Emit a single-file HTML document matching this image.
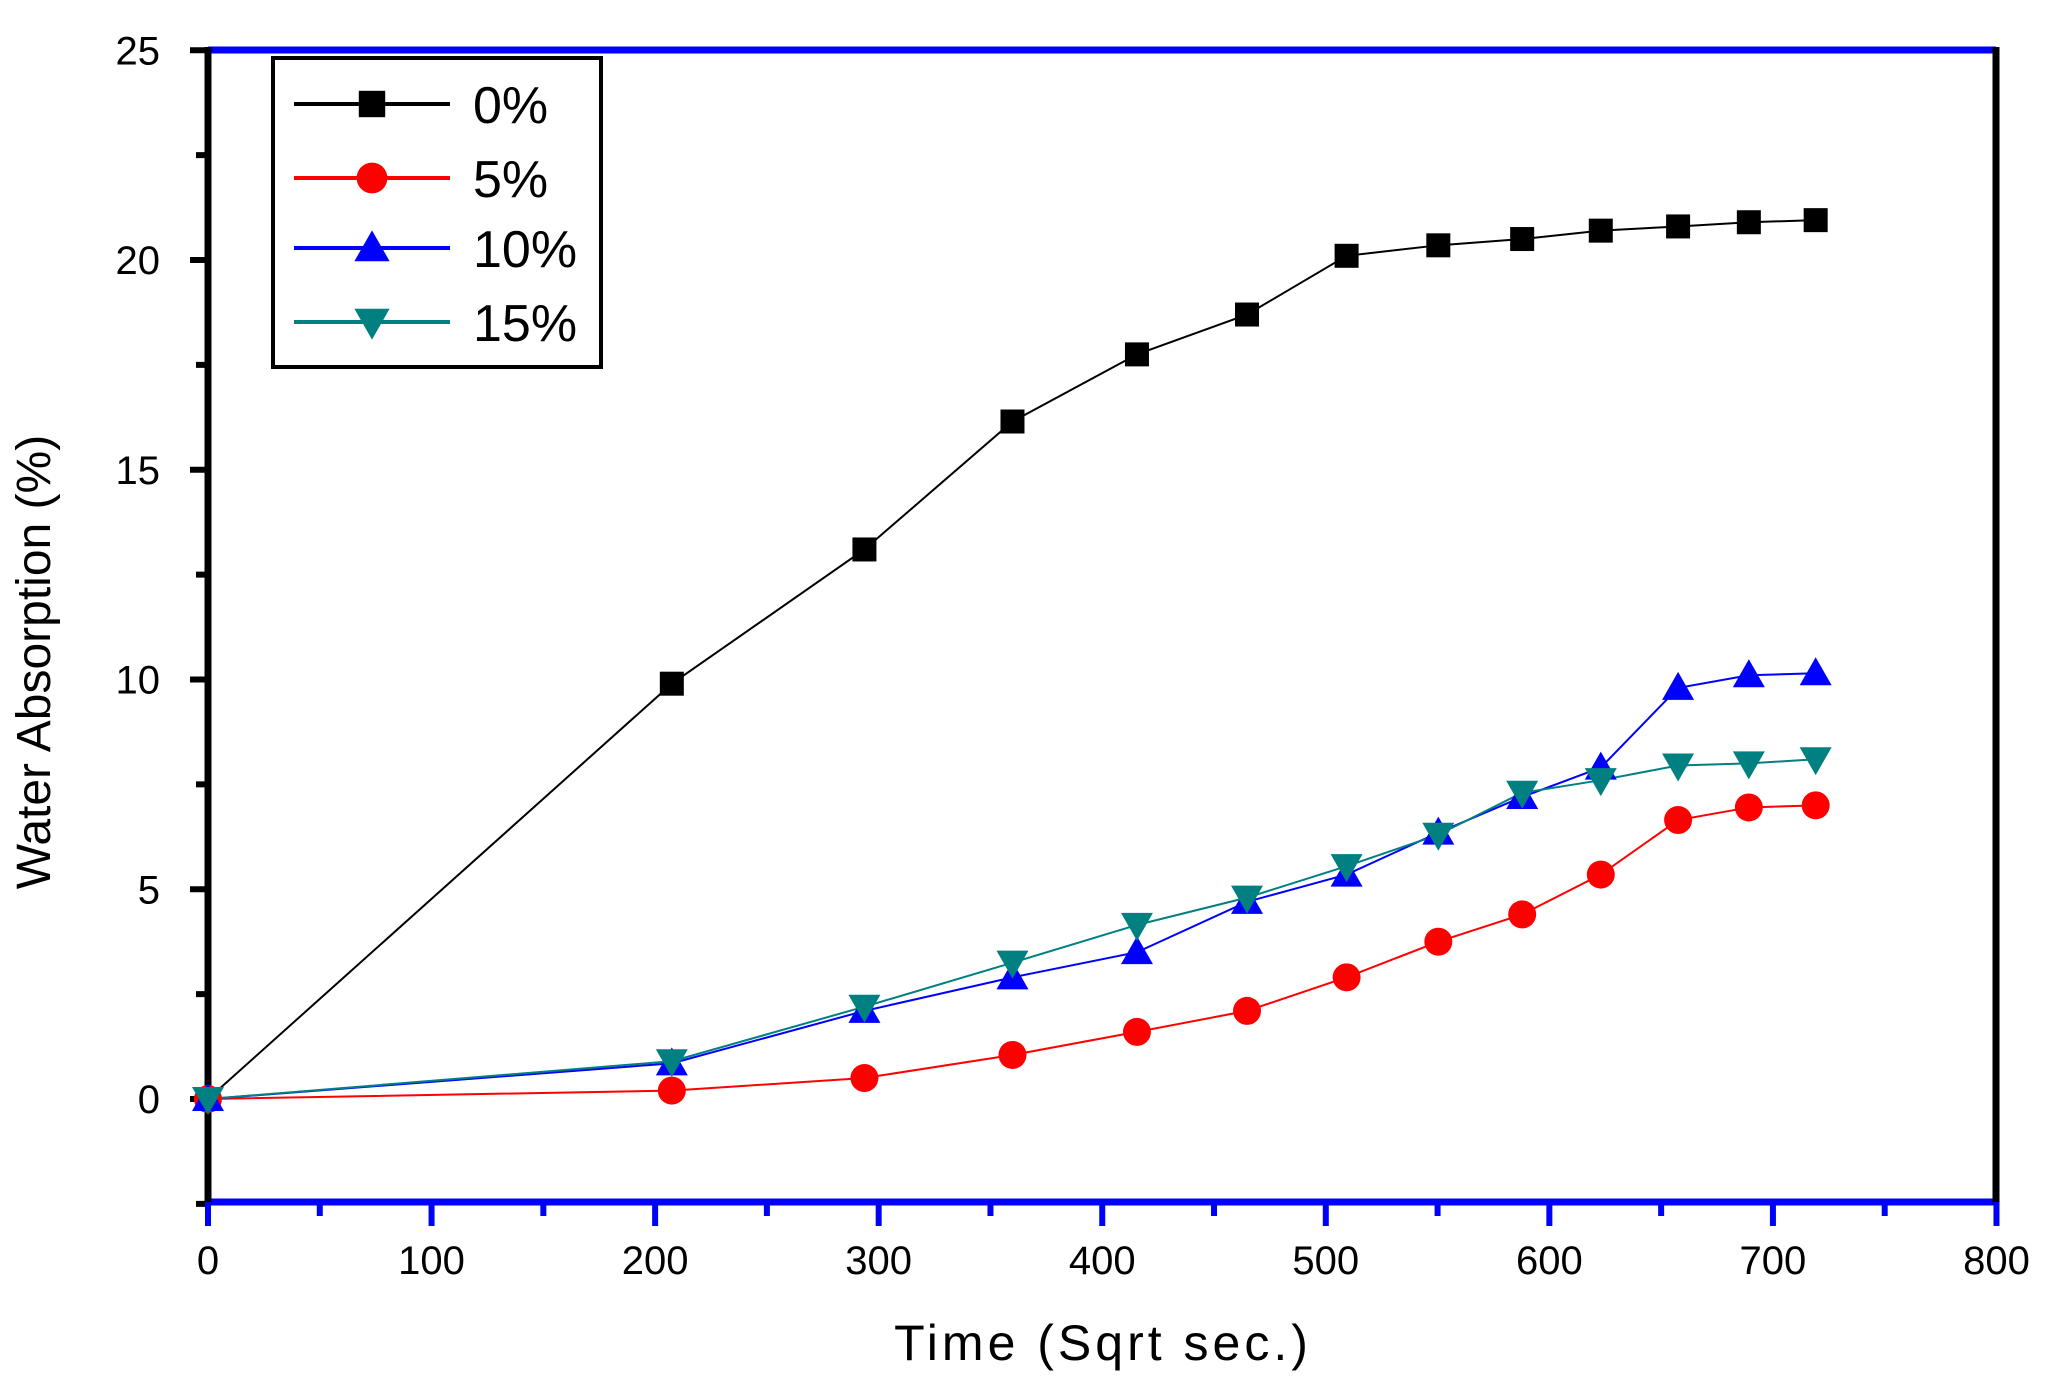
<!DOCTYPE html>
<html><head><meta charset="utf-8"><style>
html,body{margin:0;padding:0;background:#fff}
svg{display:block;font-family:"Liberation Sans",Arial,sans-serif}
</style></head><body>
<svg id="s" width="2055" height="1390" viewBox="0 0 2055 1390" xmlns="http://www.w3.org/2000/svg">
<g id="g"></g>
<text x="50" y="662" font-size="48" text-anchor="middle" transform="rotate(-90 50 662)">Water Absorption (%)</text>
<text x="1103" y="1360" font-size="50" text-anchor="middle" letter-spacing="4">Time (Sqrt sec.)</text>
</svg>
<script>
var g=document.getElementById('g'),h='';
function px(x){return 208+x*2.2356}function py(y){return 1099-y*41.95}
h+='<line x1="208" y1="50" x2="1996" y2="50" stroke="#00f" stroke-width="7"/>';
h+='<line x1="208" y1="1202" x2="1996" y2="1202" stroke="#00f" stroke-width="7"/>';
h+='<line x1="208" y1="47" x2="208" y2="1205" stroke="#000" stroke-width="7"/>';
h+='<line x1="1996" y1="47" x2="1996" y2="1205" stroke="#000" stroke-width="7"/>';
for(var v=-2.5;v<=25;v+=2.5){var y=py(v),maj=(v%5==0);h+='<line x1="'+(maj?190:196)+'" y1="'+y+'" x2="208" y2="'+y+'" stroke="#000" stroke-width="6"/>';
if(maj)h+='<text x="160" y="'+(y+14)+'" font-size="40" text-anchor="end">'+v+'</text>';}
for(var x=0;x<=800;x+=50){var X=px(x),maj=(x%100==0);h+='<line x1="'+X+'" y1="1202" x2="'+X+'" y2="'+(maj?1226:1216)+'" stroke="#00f" stroke-width="6"/>';
if(maj)h+='<text x="'+X+'" y="1274" font-size="40" text-anchor="middle">'+x+'</text>';}
var S=[
{c:'#000',m:'sq',d:[0,9.9,13.1,16.15,17.75,18.7,20.1,20.35,20.5,20.7,20.8,20.9,20.95]},
{c:'#f00',m:'ci',d:[0,0.2,0.5,1.05,1.6,2.1,2.9,3.75,4.4,5.35,6.65,6.95,7.0]},
{c:'#00f',m:'tu',d:[0,0.85,2.1,2.9,3.5,4.7,5.35,6.35,7.2,7.9,9.8,10.1,10.15]},
{c:'#008080',m:'td',d:[0,0.9,2.2,3.25,4.15,4.8,5.55,6.3,7.3,7.6,7.95,8.0,8.1]}];
var xv=[158,512,659,772,867,951,1027,1097,1161,1221,1280,1334,1385].map(function(d){return (d-158)*800/1365;});
function mk(m,c,X,Y,sc){sc=sc||1;
if(m=='sq')return '<rect x="'+(X-12*sc)+'" y="'+(Y-12*sc)+'" width="'+24*sc+'" height="'+24*sc+'" fill="'+c+'"/>';
if(m=='ci')return '<circle cx="'+X+'" cy="'+Y+'" r="'+14*sc+'" fill="'+c+'"/>';
if(m=='tu')return '<polygon points="'+X+','+(Y-16*sc)+' '+(X+16*sc)+','+(Y+12*sc)+' '+(X-16*sc)+','+(Y+12*sc)+'" fill="'+c+'"/>';
return '<polygon points="'+X+','+(Y+16*sc)+' '+(X+16*sc)+','+(Y-12*sc)+' '+(X-16*sc)+','+(Y-12*sc)+'" fill="'+c+'"/>';}
S.forEach(function(s){var p=s.d.map(function(v,i){return px(xv[i])+','+py(v)}).join(' ');
h+='<polyline points="'+p+'" fill="none" stroke="'+s.c+'" stroke-width="2"/>';});
S.forEach(function(s){s.d.forEach(function(v,i){h+=mk(s.m,s.c,px(xv[i]),py(v));});});
h+='<rect x="273" y="58" width="328" height="309" fill="#fff" stroke="#000" stroke-width="4"/>';
var L=['0%','5%','10%','15%'],ly=[104,178,248,322];
S.forEach(function(s,i){h+='<line x1="294" y1="'+ly[i]+'" x2="450" y2="'+ly[i]+'" stroke="'+s.c+'" stroke-width="4"/>';
h+=mk(s.m,s.c,372,ly[i],1.1);h+='<text x="473" y="'+(ly[i]+19)+'" font-size="52">'+L[i]+'</text>';});
g.innerHTML=h;
</script>
</body></html>
